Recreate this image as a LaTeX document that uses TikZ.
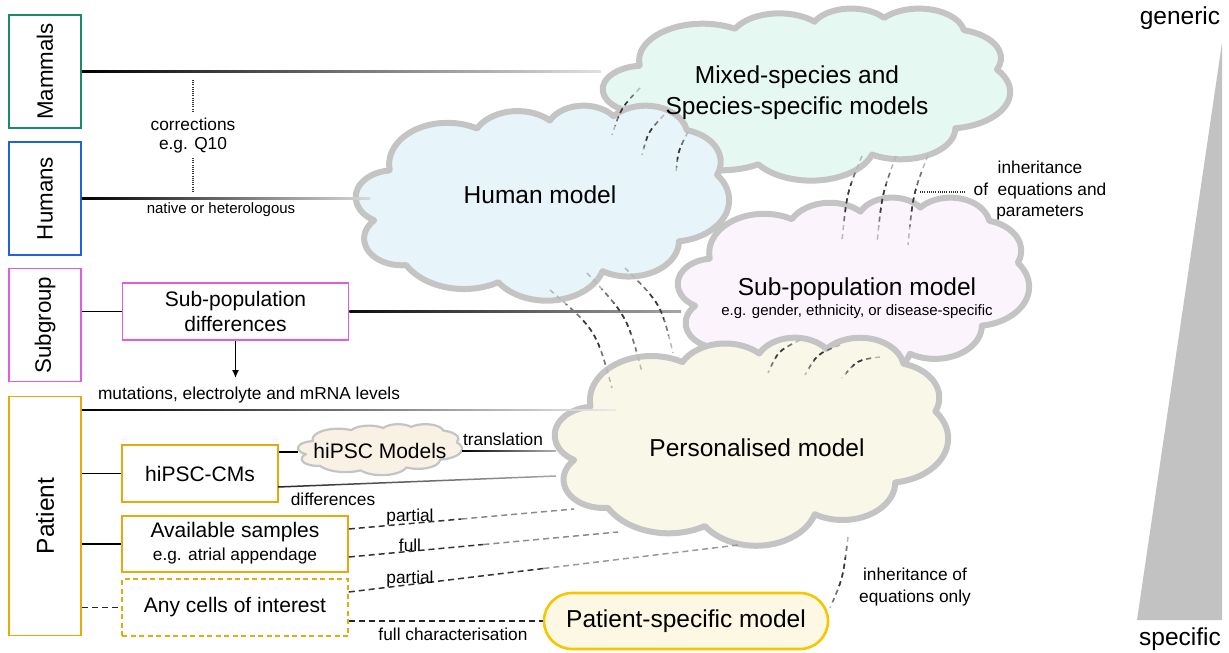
\documentclass[tikz,border=0pt]{standalone}
\usepackage{tikz}
\usepackage{fontspec}
\setmainfont{Liberation Sans}
\usetikzlibrary{arrows.meta,calc}
\definecolor{mamc}{HTML}{1B8A6B}
\definecolor{humc}{HTML}{1F63DE}
\definecolor{subc}{HTML}{E05CE3}
\definecolor{patc}{HTML}{E8A90E}
\definecolor{pillc}{HTML}{F6C700}
\definecolor{pillf}{HTML}{FDF8E4}
\definecolor{cloudl}{HTML}{C4C4C4}
\definecolor{mixf}{HTML}{E5F8F1}
\definecolor{humf}{HTML}{E7F4FA}
\definecolor{subf}{HTML}{FCF4FC}
\definecolor{perf}{HTML}{F9F8E8}
\definecolor{ipsf}{HTML}{F8F1E4}
\definecolor{trig}{HTML}{C2C2C2}
% cloud outline (preset cloud geometry, box 432 x 432)
\newcommand\mkarc[4]{%
  \pgfmathsetmacro\tmpS{atan2((#1)*sin(#3),(#2)*cos(#3))}%
  \pgfmathsetmacro\tmpE{atan2((#1)*sin((#3)+(#4)),(#2)*cos((#3)+(#4)))}%
  \pgfmathsetmacro\tmpD{mod((\tmpE)-(\tmpS)+720,360)}%
  \xdef\cloudpath{\cloudpath arc[start angle=\tmpS, delta angle=\tmpD, x radius=#1, y radius=#2]}%
}
\gdef\cloudpath{(39,143.7)}
\mkarc{67.53}{91.90}{-190.4875}{123.7805}
\mkarc{53.33}{72.67}{-144.1024}{89.9452}
\mkarc{43.65}{59.45}{-145.8079}{99.7230}
\mkarc{48.57}{65.95}{-130.9861}{117.2417}
\mkarc{53.33}{72.73}{-78.7089}{109.0269}
\mkarc{67.75}{92.20}{-46.2673}{130.2690}
\mkarc{57.85}{78.67}{0.6250}{114.0333}
\mkarc{67.52}{92.15}{22.4516}{115.1726}
\mkarc{77.20}{105.43}{66.2426}{75.7110}
\mkarc{43.60}{59.18}{-274.9421}{146.7356}
\mkarc{43.45}{59.45}{-246.8285}{152.5189}
\xdef\cloudpath{\cloudpath -- cycle}
\newcommand\drawcloud[6]{%
  \begin{scope}[shift={(#1,#2)},xscale=#3/432,yscale=#4/432]
    \filldraw[draw=cloudl,line width=#6,fill=#5,line join=round] \cloudpath;
  \end{scope}}
% dashed inheritance arc, light at its ends and dark in its middle
\newcommand\inharc[4]{%
  \draw[inhst,black!28] (#1) .. controls (#2) .. (#3);
  \begin{scope}
    \clip ($(#1)!0.5!(#3)$) circle (#4);
    \draw[inhst,black!55] (#1) .. controls (#2) .. (#3);
  \end{scope}
  \begin{scope}
    \clip ($(#1)!0.5!(#3)$) circle (0.55*#4);
    \draw[inhst,black!78] (#1) .. controls (#2) .. (#3);
  \end{scope}}
\begin{document}
\begin{tikzpicture}[x=1pt,y=-1pt,
  fbig/.style={font=\fontsize{24.5}{31}\selectfont},
  flab/.style={font=\fontsize{22.3}{27}\selectfont},
  fmid/.style={font=\fontsize{21}{26}\selectfont},
  fsm/.style={font=\fontsize{17.3}{21.5}\selectfont},
  ftiny/.style={font=\fontsize{15}{18}\selectfont},
  txt/.style={inner sep=0pt,align=center},
  sidebox/.style={draw,line width=1.6pt,minimum width=72pt,inner sep=0pt},
  ibox/.style={draw,line width=1.6pt,inner sep=0pt,align=center},
  conn/.style={line width=1.5pt,black},
  dl/.style={line width=1.5pt,dash pattern=on 6pt off 4pt},
  inhst/.style={line width=1.5pt,dash pattern=on 5pt off 4pt},
  dotst/.style={line width=1.1pt,dash pattern=on 1pt off 1.2pt,black!80}]
\useasboundingbox (0,0) rectangle (1229,653);

% triangle scale
\fill[trig] (1137,620) -- (1222,620) -- (1222,43) -- cycle;
\node[txt,fbig] (gen) at (1180,18) {generic};
\node[txt,fbig] (spec) at (1180,639) {specific};

% clouds
\drawcloud{603}{8}{407}{172}{mixf}{6pt}
\drawcloud{356}{105}{373}{195}{humf}{6pt}
\drawcloud{678}{197}{351}{184}{subf}{6pt}
\drawcloud{555}{337}{393}{208}{perf}{6pt}
\drawcloud{298}{424}{164}{51}{ipsf}{2.2pt}

\node[txt,fbig] (mixt) at (797,93) {Mixed-species and\\Species-specific models};
\node[txt,fbig] (humt) at (540,195) {Human model};
\node[txt,fbig] (subt) at (857,289) {Sub-population model};
\node[txt,ftiny] (subs) at (857,312) {e.g. gender, ethnicity, or disease-specific};
\node[txt,fbig] (pert) at (757,448) {Personalised model};
\node[txt,fmid] (ipst) at (380,451) {hiPSC Models};

% left boxes
\node[sidebox,draw=mamc,minimum height=113pt] (mam) at (45,71.5) {};
\node[txt,flab,rotate=90] (mamt) at (mam) {Mammals};
\node[sidebox,draw=humc,minimum height=113pt] (hum) at (45,198.5) {};
\node[txt,flab,rotate=90] (humtt) at (hum) {Humans};
\node[sidebox,draw=subc,minimum height=113pt] (sub) at (45,325) {};
\node[txt,flab,rotate=90] (subtt) at (sub) {Subgroup};
\node[sidebox,draw=patc,minimum height=239pt] (pat) at (45,516) {};
\node[txt,fbig,rotate=90] (patt) at (pat) {Patient};

\node[ibox,draw=subc,fmid,minimum width=226pt,minimum height=57pt] (spd) at (235.5,311.5) {Sub-population\\[-1pt]differences};
\node[ibox,draw=patc,fmid,minimum width=156pt,minimum height=57pt] (cms) at (200,473.5) {hiPSC-CMs};
\node[ibox,draw=patc,minimum width=226pt,minimum height=56pt] (avs) at (235,544) {};
\node[txt,fmid] (avst) at (235,532) {Available samples};
\node[txt,fsm] (avss) at (235,556) {e.g. atrial appendage};
\node[ibox,draw=patc,dash pattern=on 5pt off 3.5pt,fmid,minimum width=226pt,minimum height=57pt] (aci) at (235,607.5) {Any cells of interest};
\node[draw=pillc,fill=pillf,line width=2.6pt,rounded corners=28pt,minimum width=284pt,minimum height=56pt,inner sep=0pt,fbig] (pill) at (686,621) {Patient-specific model};

% connector end points
\coordinate (mixL) at (601,71.5);
\coordinate (humL) at (370,198.5);
\coordinate (subL) at (681,311.5);
\coordinate (mutR) at (616,410);
\coordinate (ipsL) at (298,452);
\coordinate (ipsR) at (462,451);
\coordinate (perT) at (556,451);
\coordinate (difL) at (278,487);
\coordinate (difR) at (556,476);
\coordinate (arrE) at (235.5,378);

% fading solid connectors
\shade[left color=black,middle color=black!78,right color=black!12] ($(mam.east)+(0,-0.75)$) rectangle ($(mixL)+(0,0.75)$);
\shade[left color=black,middle color=black!80,right color=black!15] ($(hum.east)+(0,-0.75)$) rectangle ($(humL)+(0,0.75)$);
\shade[left color=black!95,middle color=black!78,right color=black!35] ($(spd.east)+(0,-0.75)$) rectangle ($(subL)+(0,0.75)$);
\shade[left color=black,middle color=black!88,right color=black!8] ($(pat.east |- mutR)+(0,-0.75)$) rectangle ($(mutR)+(0,0.75)$);
\shade[left color=black,right color=black!30] ($(ipsR)+(0,-0.75)$) rectangle ($(perT)+(0,0.75)$);
\shade[left color=black!85,right color=black!35] ($(difL)+(0,-0.75)$) -- ($(difR)+(0,-0.75)$) -- ($(difR)+(0,0.75)$) -- ($(difL)+(0,0.75)$) -- cycle;

\draw[conn] (sub.east |- spd.west) -- (spd.west);
\draw[conn] (pat.east |- cms.west) -- (cms.west);
\draw[conn] (cms.east |- ipsL) -- (ipsL);
\draw[conn] (pat.east |- avs.west) -- (avs.west);
\draw[dl,black!85] (pat.east |- aci.west) -- (aci.west);
\draw[line width=1.4pt,-{Latex[length=8pt,width=7pt]}] (spd.south) -- (arrE);

% dotted corrections
\coordinate (c1) at (193,80);
\coordinate (c2) at (193,113);
\coordinate (c3) at (193,158);
\coordinate (c4) at (193,192);
\draw[dotst] (c1) -- (c2);
\draw[dotst] (c3) -- (c4);
\node[txt,fsm] (corr) at (193,124) {corrections};
\node[txt,fsm] (q10) at (193,145) {e.g. Q10};
\node[txt,ftiny] (nat) at (221,210) {native or heterologous};
\node[txt,fsm] (mut) at (249,395) {mutations, electrolyte and mRNA levels};
\node[txt,fsm] (trl) at (503,439) {translation};
\node[txt,fsm] (dif) at (333,499) {differences};

% dashed sample connectors
\coordinate (d1a) at ($(avs.east)+(0,-15)$);
\coordinate (d1b) at (574,509);
\coordinate (d2a) at ($(avs.east)+(0,13)$);
\coordinate (d2b) at (618,532);
\coordinate (d3a) at ($(aci.east)+(0,-15.5)$);
\coordinate (d3b) at (738,545);
\coordinate (d4a) at ($(aci.east)+(0,13.5)$);
\draw[dl,black!80] (d1a) -- ($(d1a)!0.5!(d1b)$);
\draw[dl,black!45] ($(d1a)!0.5!(d1b)$) -- (d1b);
\draw[dl,black!80] (d2a) -- ($(d2a)!0.5!(d2b)$);
\draw[dl,black!45] ($(d2a)!0.5!(d2b)$) -- (d2b);
\draw[dl,black!80] (d3a) -- ($(d3a)!0.5!(d3b)$);
\draw[dl,black!40] ($(d3a)!0.5!(d3b)$) -- (d3b);
\draw[dl,black!85] (d4a) -- (d4a -| pill.west);
\node[txt,fsm] (p1) at (410,517) {partial};
\node[txt,fsm] (f1) at (410,545) {full};
\node[txt,fsm] (p2) at (410,579) {partial};
\node[txt,fsm] (fc) at (453,634) {full characterisation};

% inheritance arcs
\inharc{640,88}{621,108}{612,135}{18}
\inharc{664,115}{648,132}{642,155}{16}
\inharc{688,132}{678,151}{676,173}{16}
\inharc{862,156}{847,192}{842,240}{28}
\inharc{896,156}{882,194}{877,243}{28}
\inharc{928,155}{913,194}{908,245}{28}
\inharc{550,290}{596,330}{612,388}{38}
\inharc{587,273}{627,316}{642,372}{36}
\inharc{625,268}{661,304}{673,353}{32}
\inharc{800,340}{778,351}{768,373}{16}
\inharc{840,345}{817,354}{805,375}{16}
\inharc{880,357}{857,360}{842,378}{16}
\inharc{848,537}{843,578}{830,608}{30}

\coordinate (dt1) at (920,192);
\coordinate (dt2) at (966,192);
\draw[dotst] (dt1) -- (dt2);
\node[txt,fsm] (inh1) at (1040,191) {inheritance\\of\ \ equations and\\parameters};
\node[txt,fsm] (inh2) at (915,587) {inheritance of\\equations only};
\end{tikzpicture}
\end{document}
